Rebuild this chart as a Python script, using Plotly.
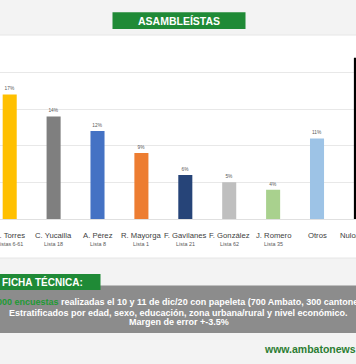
import plotly.graph_objects as go

# ---- data ----
names = ["D. Torres", "C. Yucailla", "A. Pérez", "R. Mayorga", "F. Gavilanes",
         "F. González", "J. Romero", "Otros", "Nulo/Blanco"]
listas = ["Listas 6-61", "Lista 18", "Lista 8", "Lista 1", "Lista 21",
          "Lista 62", "Lista 35", "", ""]
values = [17, 14, 12, 9, 6, 5, 4, 11, 22]
colors = ["#FFC000", "#7F7F7F", "#4472C4", "#ED7D31", "#264478",
          "#BFBFBF", "#A9D18E", "#9DC3E6", "#000000"]
y_ticks = [0, 5, 10, 15, 20, 25]

title_text = "ASAMBLEÍSTAS"
ficha_title = "FICHA TÉCNICA:"
ficha_lines = [
    "<span style='color:#1f9a34'>1000 encuestas</span> realizadas el 10 y 11 de dic/20 con papeleta (700 Ambato, 300 cantones)",
    "Estratificados por edad, sexo, educación, zona urbana/rural y nivel económico.",
    "Margen de error +-3.5%",
]
website = "www.ambatonews.com"

# ---- layout helpers ----
W, H = 356, 364
def fx(p):
    return p / W
def fy(p):
    return 1 - p / H

SANS = "Liberation Sans, Arial, sans-serif"

x_range = [-0.221, 7.888]

fig = go.Figure()
fig.add_trace(go.Bar(
    x=list(range(len(names))), y=values,
    marker=dict(color=colors, line=dict(width=0)),
    texttemplate="%{y}%", textposition="outside",
    textfont=dict(family=SANS, size=4.8, color="#595959"),
    cliponaxis=False, hoverinfo="skip",
))

annotations = []
for i, (n, l) in enumerate(zip(names, listas)):
    if x_range[0] <= i <= x_range[1]:
        xa = dict(xref="x", x=i)
    else:
        xa = dict(xref="paper", x=(i - x_range[0]) / (x_range[1] - x_range[0]))
    annotations.append(dict(**xa, yref="paper", y=fy(235.5), text=n, showarrow=False,
                            xanchor="center", yanchor="middle",
                            font=dict(family=SANS, size=7.7, color="#404040")))
    if l:
        annotations.append(dict(**xa, yref="paper", y=fy(244), text=l, showarrow=False,
                                xanchor="center", yanchor="middle",
                                font=dict(family=SANS, size=5.4, color="#595959")))

# title
annotations.append(dict(xref="paper", yref="paper", x=fx(179), y=fy(20.8), text="<b>" + title_text + "</b>",
                        showarrow=False, xanchor="center", yanchor="middle",
                        font=dict(family=SANS, size=10.5, color="white")))
# ficha title
annotations.append(dict(xref="paper", yref="paper", x=fx(0), y=fy(282), text="<b>" + ficha_title + "</b>",
                        showarrow=False, xanchor="left", yanchor="middle",
                        font=dict(family=SANS, size=10, color="white")))
for line, yp in zip(ficha_lines, [302, 312.5, 322]):
    annotations.append(dict(xref="paper", yref="paper", x=fx(179), y=fy(yp), text="<b>" + line + "</b>",
                            showarrow=False, xanchor="center", yanchor="middle",
                            font=dict(family=SANS, size=9, color="white")))
annotations.append(dict(xref="paper", yref="paper", x=fx(262), y=fy(348.5), text="<b>" + website + "</b>",
                        showarrow=False, xanchor="left", yanchor="middle",
                        font=dict(family=SANS, size=10.5, color="#2b7d32")))

shapes = [
    dict(type="rect", xref="paper", yref="paper", x0=fx(-2), x1=fx(W + 2), y0=fy(258), y1=fy(35),
         fillcolor="white", line=dict(color="#e6e6e6", width=1), layer="below"),
    dict(type="rect", xref="paper", yref="paper", x0=fx(112.5), x1=fx(245.5), y0=fy(29), y1=fy(12.3),
         fillcolor="#1f8a36", line=dict(width=0), layer="below"),
    dict(type="rect", xref="paper", yref="paper", x0=fx(-2), x1=fx(W + 2), y0=fy(333), y1=fy(285.5),
         fillcolor="#8c8c8c", line=dict(width=0), layer="below"),
    dict(type="rect", xref="paper", yref="paper", x0=fx(-2), x1=fx(100.5), y0=fy(290), y1=fy(274),
         fillcolor="#1f8a36", line=dict(width=0), layer="below"),
]

fig.update_layout(
    width=W, height=H,
    margin=dict(l=0, r=0, t=0, b=0, pad=0, autoexpand=False),
    paper_bgcolor="#f3f3f3", plot_bgcolor="rgba(0,0,0,0)",
    showlegend=False, bargap=0.68,
    xaxis=dict(range=x_range, showticklabels=False, showgrid=False, zeroline=False,
               showline=False, ticks="", fixedrange=True),
    yaxis=dict(range=[0, 25], domain=[fy(219), fy(35.8)], tickvals=y_ticks,
               showticklabels=False, gridcolor="#e8e8e8", gridwidth=1, zeroline=True,
               zerolinecolor="#e0e0e0", zerolinewidth=1, showline=False, ticks="", fixedrange=True),
    annotations=annotations, shapes=shapes,
)

fig.write_html("out.html", config={"displayModeBar": False},
               post_script="document.body.style.margin='0';document.body.style.overflow='hidden';")
